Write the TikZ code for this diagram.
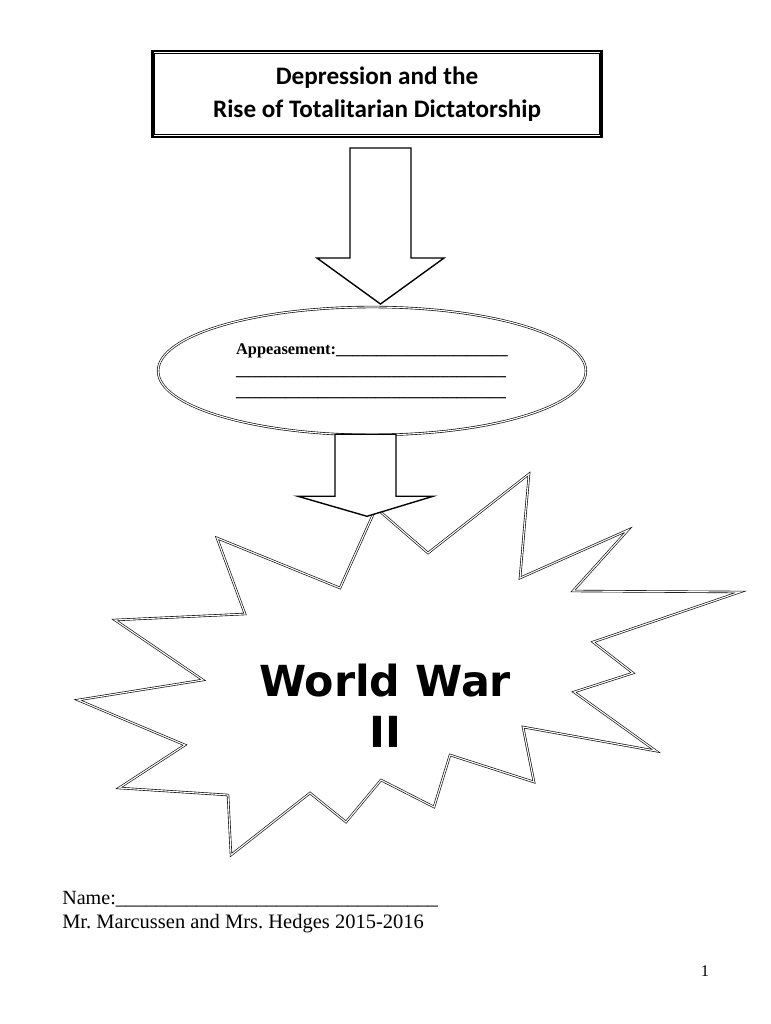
\documentclass[tikz,border=0pt]{standalone}
\usepackage{fontspec}
\setmainfont{Liberation Serif}
\newfontfamily\titlefont{Carlito}
\newfontfamily\warfont{DejaVu Sans}
\usetikzlibrary{shapes.geometric}
\frenchspacing

\begin{document}
\begin{tikzpicture}[x=0.7948pt,y=-0.7948pt,
    dbline/.style={draw,line width=0.5pt,double=white,double distance=0.9pt},
    blockarrow/.style={draw,fill=white,line width=1.1pt,line join=miter}]
  \useasboundingbox (0,0) rectangle (770,1024);
  % Title box - thick/thin frame
  \node[draw,line width=2pt,minimum width=357pt,minimum height=68pt,inner sep=0pt,
        align=center,font=\titlefont\bfseries\fontsize{20}{26}\selectfont] (title) at (377,94)
       {Depression and the\\Rise of Totalitarian Dictatorship};
  \draw[line width=0.6pt] ([shift={(3.5,3.5)}]title.north west) rectangle ([shift={(-3.5,-3.5)}]title.south east);
  % Arrow 1
  \draw[blockarrow,shift={(title.south)}] (-27,10) -- (34,10) -- (34,120) -- (67,120)
       -- (3.5,166) -- (-60,120) -- (-27,120) -- cycle;
  % Ellipse with blanks
  \node[ellipse,dbline,minimum width=340pt,minimum height=101.7pt,inner sep=0pt,align=left,
        font=\bfseries\fontsize{13}{16.5}\selectfont] (appease) at (372,371)
       {Appeasement:\_\_\_\_\_\_\_\_\_\_\_\_\_\_\_\_\_\_\_\_\_\\
        \_\_\_\_\_\_\_\_\_\_\_\_\_\_\_\_\_\_\_\_\_\_\_\_\_\_\_\_\_\_\_\_\_\\
        \_\_\_\_\_\_\_\_\_\_\_\_\_\_\_\_\_\_\_\_\_\_\_\_\_\_\_\_\_\_\_\_\_};
  % Starburst
  \draw[dbline,fill=white] (376,508) -- (428,553) -- (529,474) -- (520,578) -- (628,530)
       -- (573,591) -- (740,592) -- (593,642) -- (633,673) -- (574,692) -- (656,751)
       -- (523,727) -- (534,782) -- (450,755) -- (434,807) -- (381,780) -- (346,822)
       -- (310,793) -- (231,855) -- (228,795) -- (119,788) -- (185,745) -- (78,700)
       -- (203,680) -- (115,620) -- (245,614) -- (217,538) -- (340,588) -- cycle;
  \node[font=\warfont\bfseries\fontsize{34}{40.5}\selectfont,align=center] (war) at (385,706)
       {World War\\II};
  % Arrow 2
  \draw[blockarrow,shift={(appease.south)}] (-37,-1) -- (24,-1) -- (24,61) -- (61,61)
       -- (-5,81) -- (-74,61) -- (-37,61) -- cycle;
  % Footer
  \node[anchor=base west,inner sep=0pt,font=\fontsize{16}{19}\selectfont] (name) at (62,904)
       {Name:\_\_\_\_\_\_\_\_\_\_\_\_\_\_\_\_\_\_\_\_\_\_\_\_\_\_\_\_\_\_\_\_};
  \node[anchor=base west,inner sep=0pt,font=\fontsize{16.3}{19}\selectfont] (teachers) at (62,928)
       {Mr. Marcussen and Mrs. Hedges 2015-2016};
  \node[anchor=base,inner sep=0pt,font=\fontsize{13}{15}\selectfont] (page) at (705,976) {1};
\end{tikzpicture}
\end{document}
